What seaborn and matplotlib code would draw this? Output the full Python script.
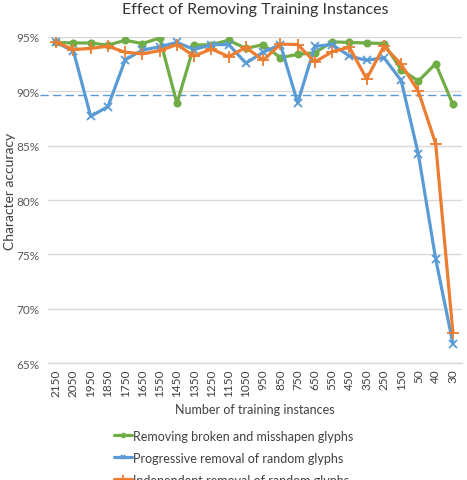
import numpy as np
import pandas as pd
import seaborn as sns
import matplotlib
matplotlib.use("Agg")
import matplotlib.pyplot as plt

# %%
instances = ["2150", "2050", "1950", "1850", "1750", "1650", "1550", "1450",
             "1350", "1250", "1150", "1050", "950", "850", "750", "650",
             "550", "450", "350", "250", "150", "50", "40", "30"]

broken = [94.5, 94.45, 94.45, 94.25, 94.7, 94.4, 94.9, 88.9,
          94.25, 94.3, 94.7, 93.95, 94.3, 93.1, 93.4, 93.55,
          94.55, 94.5, 94.45, 94.4, 92.0, 90.95, 92.55, 88.8]

progressive = [94.5, 93.7, 87.7, 88.6, 92.9, 93.8, 94.1, 94.5,
               93.85, 94.3, 94.3, 92.6, 93.6, 94.3, 88.95, 94.15,
               94.3, 93.25, 92.85, 93.1, 91.0, 84.2, 74.6, 66.8]

independent = [94.5, 93.85, 93.95, 94.15, 93.6, 93.45, 93.75, 94.3,
               93.25, 93.9, 93.2, 94.05, 92.85, 94.35, 94.3, 92.7,
               93.65, 94.05, 91.15, 94.15, 92.5, 90.0, 85.2, 67.8]

baseline = 89.7

names = ["Removing broken and misshapen glyphs",
         "Progressive removal of random glyphs",
         "Independent removal of random glyphs"]
colors = ["#70AD47", "#5B9BD5", "#ED7D31"]
markers = ["o", "x", "+"]
msizes = [4.5, 6, 9]

# %%
sns.set_theme(style="white")
plt.rcParams["font.family"] = ["Lato", "DejaVu Sans"]

fig = plt.figure(figsize=(4.67, 4.81), dpi=100)
ax = fig.add_axes([0.103, 0.243, 0.886, 0.678])

pos = np.arange(len(instances))
for vals, name, c, m, ms in zip([broken, progressive, independent], names, colors, markers, msizes):
    df = pd.DataFrame({"x": pos, "y": vals})
    sns.lineplot(data=df, x="x", y="y", ax=ax, color=c, linewidth=2.3,
                 marker=m, markersize=ms, markeredgewidth=1.3, markeredgecolor=c,
                 label=name)

ax.axhline(baseline, xmin=-0.02, xmax=1.0, color="#5B9BD5", lw=1.0,
           ls=(0, (6, 3)), clip_on=False, zorder=1)

ax.set_ylim(65, 95)
ax.set_xlim(-0.47, 23.52)
ax.set_yticks([65, 70, 75, 80, 85, 90, 95])
ax.set_yticklabels([f"{v}%" for v in [65, 70, 75, 80, 85, 90, 95]], fontsize=8.5, color="#595959")
ax.set_xticks(pos)
ax.set_xticklabels(instances, rotation=90, fontsize=8.5, color="#404040")
ax.tick_params(axis="y", length=0, pad=6)
ax.tick_params(axis="x", length=0, pad=4)
ax.grid(axis="y", color="#D9D9D9", lw=1.0)
ax.set_axisbelow(True)
for s in ["top", "right", "left"]:
    ax.spines[s].set_visible(False)
ax.spines["bottom"].set_color("#D9D9D9")
ax.spines["bottom"].set_linewidth(1.0)

ax.set_xlabel("Number of training instances", fontsize=9, color="#404040", labelpad=5)
ax.set_ylabel("Character accuracy", fontsize=10, color="#404040")
ax.yaxis.set_label_coords(-0.078, 0.53)
ax.set_title("Effect of Removing Training Instances", fontsize=11.5, color="#333333", pad=17)

ax.get_legend().remove()
h, l = ax.get_legend_handles_labels()
fig.legend(h, l, loc="upper center", bbox_to_anchor=(0.5, 0.128), ncol=1, frameon=False,
           fontsize=9, handlelength=1.4, handletextpad=0.1, labelspacing=0.8,
           markerscale=0.6, labelcolor="#404040")

fig.savefig("out.png", dpi=100)
